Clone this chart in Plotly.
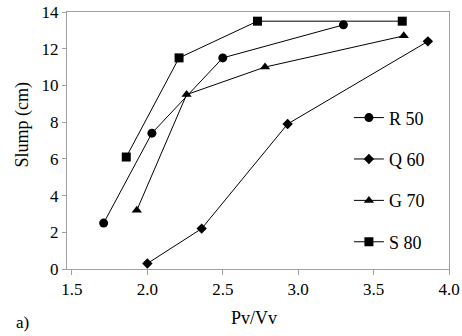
import plotly.graph_objects as go

r50_x = [1.71, 2.03, 2.50, 3.30]
r50_y = [2.5, 7.4, 11.5, 13.3]
q60_x = [2.00, 2.36, 2.93, 3.86]
q60_y = [0.3, 2.2, 7.9, 12.4]
g70_x = [1.93, 2.26, 2.78, 3.70]
g70_y = [3.2, 9.5, 11.0, 12.7]
s80_x = [1.86, 2.21, 2.73, 3.69]
s80_y = [6.1, 11.5, 13.5, 13.5]
x_ticks = [1.5, 2.0, 2.5, 3.0, 3.5, 4.0]
y_ticks = [0, 2, 4, 6, 8, 10, 12, 14]

series = [
    ("R 50", r50_x, r50_y, "circle", 9),
    ("Q 60", q60_x, q60_y, "diamond", 8),
    ("G 70", g70_x, g70_y, "triangle-up", 9),
    ("S 80", s80_x, s80_y, "square", 9),
]

font = "Liberation Serif"
fig = go.Figure()
for i, (name, xs, ys, sym, sz) in enumerate(series):
    fig.add_trace(go.Scatter(
        x=xs, y=ys, mode="lines+markers", name=name, legendgroup=f"g{i}",
        line=dict(color="black", width=1),
        marker=dict(symbol=sym, size=sz, color="black"),
    ))

fig.update_layout(
    width=462, height=336,
    margin=dict(l=67, r=13, t=12, b=67),
    paper_bgcolor="white", plot_bgcolor="white",
    font=dict(family=font, size=17, color="black"),
    showlegend=True,
    legend=dict(x=0.738, y=0.66, xanchor="left", yanchor="top",
                bgcolor="rgba(0,0,0,0)", font=dict(family=font, size=18),
                tracegroupgap=15, itemwidth=30),
    xaxis=dict(range=[1.467, 4.0], tickvals=x_ticks,
               tickformat=".1f", showgrid=False, zeroline=False,
               showline=True, linecolor="#a0a0a0", linewidth=1, mirror=True,
               ticks="outside", ticklen=5, tickcolor="#a0a0a0",
               ticklabeloverflow="allow",
               tickfont=dict(family=font, size=17), automargin=False),
    yaxis=dict(range=[0, 14], tickvals=y_ticks,
               showgrid=False, zeroline=False,
               showline=True, linecolor="#a0a0a0", linewidth=1, mirror=True,
               ticks="outside", ticklen=4, tickcolor="#a0a0a0",
               ticklabeloverflow="allow",
               tickfont=dict(family=font, size=17), automargin=False),
)
fig.add_annotation(text="Slump (cm)", x=0.0, y=0.562, xref="paper", yref="paper",
                   xanchor="center", yanchor="middle", textangle=-90, showarrow=False,
                   font=dict(family=font, size=18), xshift=-44)
fig.add_annotation(text="Pv/Vv", x=0.4895, y=0.0, xref="paper", yref="paper",
                   xanchor="center", yanchor="middle", showarrow=False,
                   font=dict(family=font, size=18), yshift=-49)
fig.add_annotation(text="a)", x=0.0, y=0.0, xref="paper", yref="paper",
                   xanchor="left", yanchor="bottom", showarrow=False,
                   font=dict(family=font, size=17), xshift=-53, yshift=-65)
fig.write_html("out.html", config={"displayModeBar": False},
               post_script="document.body.style.margin='0';document.body.style.overflow='hidden';")
